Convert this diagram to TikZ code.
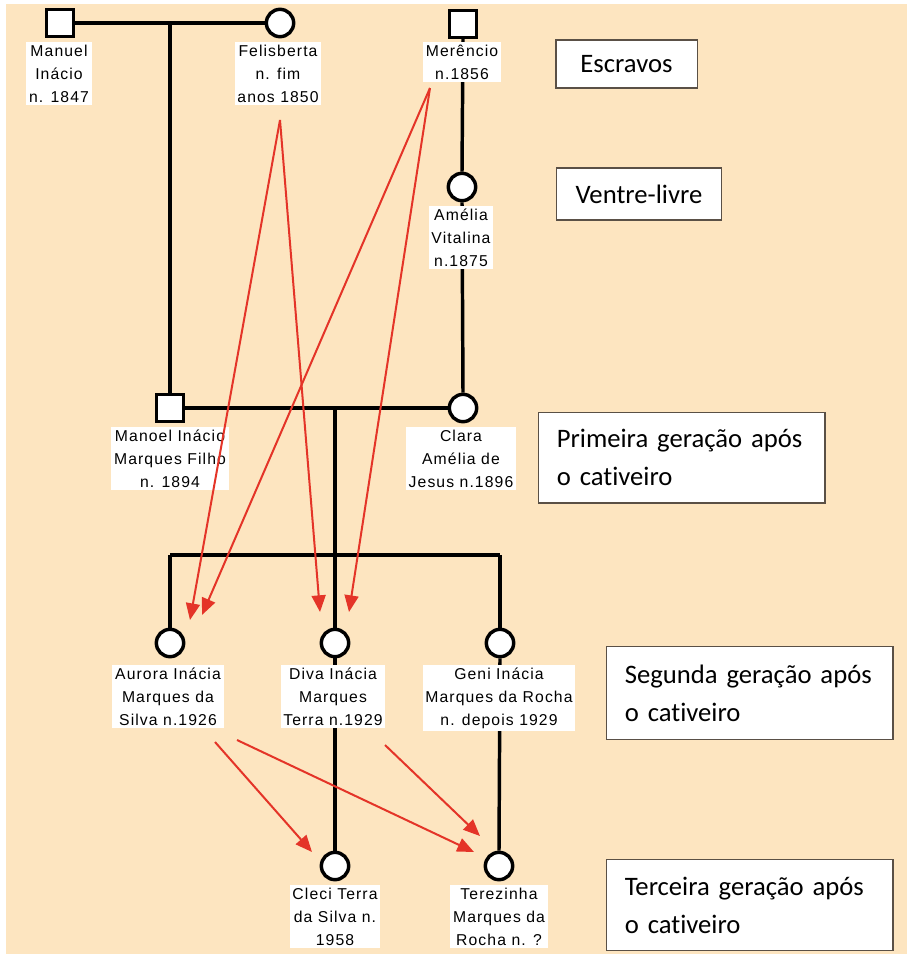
\documentclass[tikz,border=0pt]{standalone}
\usepackage{fontspec}
\newfontfamily\lblfont[LetterSpace=7]{Liberation Sans}
\newfontfamily\boxfont[Ligatures=NoCommon]{Carlito}
\usetikzlibrary{arrows.meta}
\definecolor{peach}{RGB}{253,229,192}
\definecolor{arrowred}{RGB}{228,52,40}
\definecolor{boxline}{RGB}{90,80,70}
\begin{document}
\begin{tikzpicture}[x=0.75pt,y=-0.75pt,
  kin/.style={line width=2.6pt,black},
  male/.style={rectangle,draw=black,line width=2.6pt,fill=white,minimum size=20pt,inner sep=0pt},
  female/.style={circle,draw=black,line width=2.6pt,fill=white,minimum size=20.5pt,inner sep=0pt},
  lbl/.style={fill=white,inner sep=2pt,align=center,anchor=north,font=\lblfont\fontsize{11.8}{17.25}\selectfont},
  gen/.style={draw=boxline,line width=1pt,fill=white,font=\boxfont\fontsize{20}{28.5}\selectfont},
  gen2/.style={gen,align=left,text width=187pt,inner xsep=14pt,minimum width=215pt},
  infl/.style={draw=arrowred,line width=1.5pt,-{Triangle[length=12.5pt,width=10.5pt]}}
]
\useasboundingbox (0,0) rectangle (907,957);
\fill[peach] (6,4) rectangle (907,954);

% persons
\node[male]   (manuel)  at (60,23)  {};
\node[female] (feli)    at (280,23) {};
\node[male]   (meren)   at (463,24) {};
\node[female] (amelia)  at (462,187) {};
\node[male]   (manoel)  at (170,408) {};
\node[female] (clara)   at (463,408) {};
\node[female] (aurora)  at (170,643) {};
\node[female] (diva)    at (335,643) {};
\node[female] (geni)    at (500,643) {};
\node[female] (cleci)   at (335,866) {};
\node[female] (terez)   at (499,866) {};

% couple / descent coordinates
\coordinate (c1) at (170,23);
\coordinate (c2) at (335,408);
\coordinate (s2) at (335,555);
\coordinate (s1) at (170,555);
\coordinate (s3) at (500,555);

% kinship lines
\draw[kin] (manuel.east) -- (feli.west);
\draw[kin] (c1) -- (manoel.north);
\draw[kin] (meren.south) -- (amelia.north);
\draw[kin] (amelia.south) -- (clara.north);
\draw[kin] (manoel.east) -- (clara.west);
\draw[kin] (c2) -- (s2);
\draw[kin] (s1) -- (s3);
\draw[kin] (s1) -- (aurora.north);
\draw[kin] (s2) -- (diva.north);
\draw[kin] (s3) -- (geni.north);
\draw[kin] (diva.south) -- (cleci.north);
\draw[kin] (geni.south) -- (terez.north);

% labels
\node[lbl] (lmanuel) at (59,42)  {Manuel\\Inácio\\n. 1847};
\node[lbl] (lfeli)   at (278,42) {Felisberta\\n. fim\\anos 1850};
\node[lbl] (lmeren)  at (462,42) {Merêncio\\n.1856};
\node[lbl] (lamelia) at (461,206) {Amélia\\Vitalina\\n.1875};
\node[lbl] (lmanoel) at (170,427) {Manoel Inácio\\Marques Filho\\n. 1894};
\node[lbl] (lclara)  at (461,427) {Clara\\Amélia de\\Jesus n.1896};
\node[lbl] (laurora) at (168,665) {Aurora Inácia\\Marques da\\Silva n.1926};
\node[lbl] (ldiva)   at (333,665) {Diva Inácia\\Marques\\Terra n.1929};
\node[lbl] (lgeni)   at (499,665) {Geni Inácia\\Marques da Rocha\\n. depois 1929};
\node[lbl] (lcleci)  at (335,885) {Cleci Terra\\da Silva n.\\1958};
\node[lbl] (lterez)  at (499,885) {Terezinha\\Marques da\\Rocha n. ?};

% generation boxes
\node[gen,minimum width=106pt,minimum height=36pt] (g0) at (626.5,64) {Escravos};
\node[gen,minimum width=124pt,minimum height=39pt] (g1) at (639,194) {Ventre-livre};
\node[gen2,minimum height=68pt] (g2) at (681.5,457.5) {Primeira geração após\\o cativeiro};
\node[gen2,minimum height=70pt] (g3) at (749.5,693) {Segunda geração após\\o cativeiro};
\node[gen2,minimum height=68pt] (g4) at (749.5,905) {Terceira geração após\\o cativeiro};

% influence arrows
\coordinate (fs) at (280,120);
\coordinate (ms) at (430,88);
\coordinate (ea1) at (190,620);
\coordinate (ea2) at (202,615);
\coordinate (ed1) at (320,612);
\coordinate (ed2) at (349,612);
\coordinate (as1) at (215,742);
\coordinate (as2) at (237,740);
\coordinate (ds) at (385,745);
\coordinate (ec) at (312,852);
\coordinate (et1) at (474,852);
\coordinate (et2) at (480,836);
\draw[infl] (fs) -- (ea1);
\draw[infl] (fs) -- (ed1);
\draw[infl] (ms) -- (ea2);
\draw[infl] (ms) -- (ed2);
\draw[infl] (as1) -- (ec);
\draw[infl] (as2) -- (et1);
\draw[infl] (ds) -- (et2);
\end{tikzpicture}
\end{document}
